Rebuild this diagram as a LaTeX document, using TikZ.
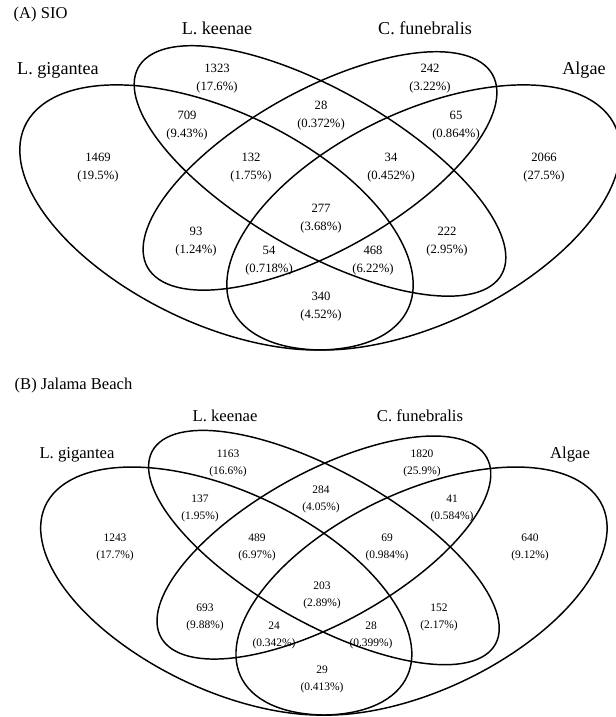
\documentclass[tikz,border=0pt]{standalone}
\usepackage{fontspec}
\setmainfont{Liberation Serif}
\begin{document}
\begin{tikzpicture}[x=0.75pt,y=0.75pt,line width=1.1pt,
  every node/.style={inner sep=0pt},
  panel/.style={anchor=west,font=\fontsize{12.4}{14}\selectfont},
  setname/.style={font=\fontsize{13.6}{15}\selectfont},
  setnameb/.style={font=\fontsize{12.5}{14}\selectfont},
  cnt/.style={align=center,font=\fontsize{9.5}{13.5}\selectfont},
  cntb/.style={align=center,font=\fontsize{8.6}{12.75}\selectfont}]
\useasboundingbox (0,0) rectangle (616,717);
\clip (0,0) rectangle (616,717);
% (A) SIO
\node[panel] (pa) at (13,702) {(A) SIO};
\begin{scope}[shift={(-25,281)},xscale=690,yscale=465]
\draw[rotate around={135:(0.35,0.47)}] (0.35,0.47) ellipse [x radius=0.35,y radius=0.2];
\draw[rotate around={45:(0.65,0.47)}] (0.65,0.47) ellipse [x radius=0.35,y radius=0.2];
\draw[rotate around={45:(0.5,0.57)}] (0.5,0.57) ellipse [x radius=0.33,y radius=0.15];
\draw[rotate around={135:(0.5,0.57)}] (0.5,0.57) ellipse [x radius=0.35,y radius=0.15];
\end{scope}
\node[setname] (lka) at (217,689) {L. keenae};
\node[setname] (cfa) at (425,689) {C. funebralis};
\node[setname] (lga) at (58,647) {L. gigantea};
\node[setname] (ala) at (584,647) {Algae};
\node[cnt] (a1) at (217,638) {1323\\(17.6\%)};
\node[cnt] (a2) at (430,638) {242\\(3.22\%)};
\node[cnt] (a3) at (321,601) {28\\(0.372\%)};
\node[cnt] (a4) at (187,591) {709\\(9.43\%)};
\node[cnt] (a5) at (456,591) {65\\(0.864\%)};
\node[cnt] (a6) at (98,549) {1469\\(19.5\%)};
\node[cnt] (a7) at (251,549) {132\\(1.75\%)};
\node[cnt] (a8) at (391,549) {34\\(0.452\%)};
\node[cnt] (a9) at (544,549) {2066\\(27.5\%)};
\node[cnt] (a10) at (321,498) {277\\(3.68\%)};
\node[cnt] (a11) at (196,475) {93\\(1.24\%)};
\node[cnt] (a12) at (447,475) {222\\(2.95\%)};
\node[cnt] (a13) at (269,456) {54\\(0.718\%)};
\node[cnt] (a14) at (373,456) {468\\(6.22\%)};
\node[cnt] (a15) at (321,410) {340\\(4.52\%)};
% (B) Jalama Beach
\node[panel] (pb) at (14,331) {(B) Jalama Beach};
\begin{scope}[shift={(-1.6,-78.5)},xscale=651,yscale=435]
\draw[rotate around={135:(0.35,0.47)}] (0.35,0.47) ellipse [x radius=0.35,y radius=0.2];
\draw[rotate around={45:(0.65,0.47)}] (0.65,0.47) ellipse [x radius=0.35,y radius=0.2];
\draw[rotate around={45:(0.5,0.57)}] (0.5,0.57) ellipse [x radius=0.33,y radius=0.15];
\draw[rotate around={135:(0.5,0.57)}] (0.5,0.57) ellipse [x radius=0.35,y radius=0.15];
\end{scope}
\node[setnameb] (lkb) at (225,301) {L. keenae};
\node[setnameb] (cfb) at (420,301) {C. funebralis};
\node[setnameb] (lgb) at (77,262) {L. gigantea};
\node[setnameb] (alb) at (570,262) {Algae};
\node[cntb] (b1) at (228,254) {1163\\(16.6\%)};
\node[cntb] (b2) at (422,254) {1820\\(25.9\%)};
\node[cntb] (b3) at (321,218) {284\\(4.05\%)};
\node[cntb] (b4) at (200,209) {137\\(1.95\%)};
\node[cntb] (b5) at (452,209) {41\\(0.584\%)};
\node[cntb] (b6) at (115,169.5) {1243\\(17.7\%)};
\node[cntb] (b7) at (257,169.5) {489\\(6.97\%)};
\node[cntb] (b8) at (387,169.5) {69\\(0.984\%)};
\node[cntb] (b9) at (530,169.5) {640\\(9.12\%)};
\node[cntb] (b10) at (322,122) {203\\(2.89\%)};
\node[cntb] (b11) at (205,100) {693\\(9.88\%)};
\node[cntb] (b12) at (439,100) {152\\(2.17\%)};
\node[cntb] (b13) at (274,82) {24\\(0.342\%)};
\node[cntb] (b14) at (371,82) {28\\(0.399\%)};
\node[cntb] (b15) at (322,38) {29\\(0.413\%)};
\end{tikzpicture}
\end{document}
